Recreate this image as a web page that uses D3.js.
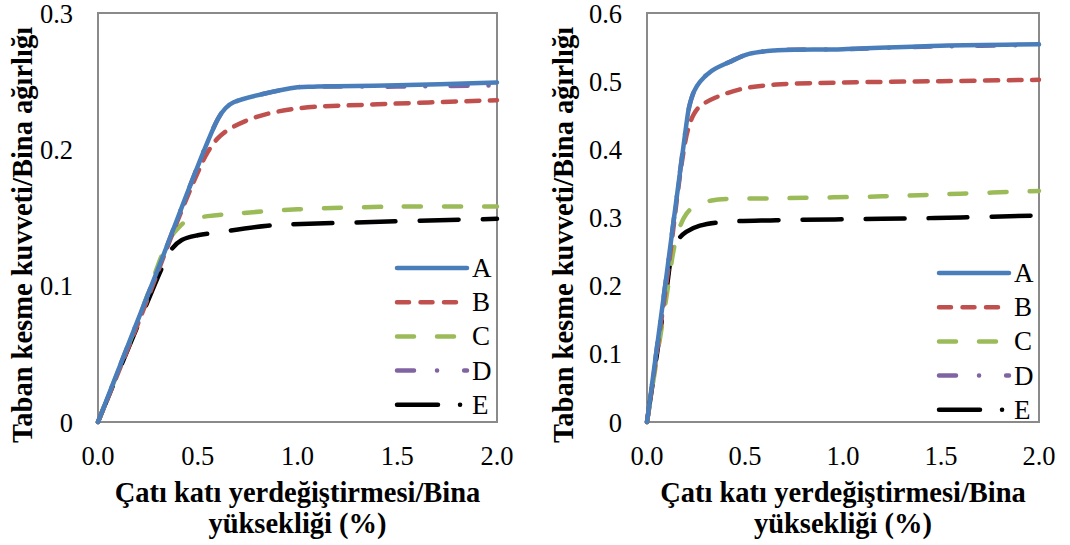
<!DOCTYPE html>
<html>
<head>
<meta charset="utf-8">
<script src="https://cdn.jsdelivr.net/npm/d3@7"></script>
<style>
    body { margin: 0; background: #fff; }
    svg { display: block; }
    .tick-label { font-family: "Liberation Serif", serif; font-size: 26.5px; fill: #000; }
    .legend-label { font-family: "Liberation Serif", serif; font-size: 27px; fill: #000; }
    .axis-title { font-family: "Liberation Serif", serif; font-size: 28.5px; font-weight: bold; fill: #000; }
</style>
</head>
<body>
<svg id="chart" width="1070" height="545"></svg>
<script>
"use strict";

// values: [drift %, base shear / weight]
var seriesNames = ["A", "B", "C", "D", "E"];
var xTicks = [0, 0.5, 1.0, 1.5, 2.0];
var leftYTicks = [0, 0.1, 0.2, 0.3];
var rightYTicks = [0, 0.1, 0.2, 0.3, 0.4, 0.5, 0.6];

var leftA = [[0, 0], [0.3, 0.112], [0.6, 0.222], [0.64, 0.2303], [0.68, 0.2345], [1.0, 0.2455], [1.1, 0.246], [1.5, 0.247], [2.0, 0.249]];
var leftB = [[0, 0], [0.2, 0.072], [0.4, 0.148], [0.5, 0.183], [0.55, 0.198], [0.6, 0.208], [0.66, 0.215], [0.8, 0.224], [1.0, 0.230], [1.4, 0.233], [2.0, 0.236]];
var leftC = [[0, 0], [0.2, 0.074], [0.35, 0.132], [0.4, 0.142], [0.45, 0.148], [0.55, 0.151], [0.7, 0.153], [1.0, 0.156], [1.5, 0.158], [2.0, 0.158]];
var leftD = [[0, 0], [0.3, 0.112], [0.6, 0.222], [0.64, 0.2303], [0.68, 0.2345], [1.0, 0.2455], [1.1, 0.246], [1.5, 0.246], [2.0, 0.247]];
var leftE = [[0, 0], [0.2, 0.071], [0.33, 0.116], [0.37, 0.127], [0.42, 0.1335], [0.5, 0.137], [0.6, 0.139], [0.85, 0.144], [1.2, 0.146], [2.0, 0.149]];

var rightA = [[0, 0], [0.1, 0.216], [0.2, 0.435], [0.215, 0.462], [0.24, 0.485], [0.27, 0.499], [0.33, 0.515], [0.42, 0.528], [0.52, 0.540], [0.65, 0.545], [1.0, 0.547], [1.5, 0.552], [2.0, 0.554]];
var rightB = [[0, 0], [0.1, 0.205], [0.18, 0.385], [0.21, 0.430], [0.24, 0.452], [0.27, 0.463], [0.35, 0.476], [0.49, 0.489], [0.66, 0.495], [1.0, 0.498], [1.5, 0.500], [2.0, 0.502]];
var rightC = [[0, 0], [0.1, 0.185], [0.14, 0.258], [0.17, 0.288], [0.2, 0.305], [0.24, 0.316], [0.33, 0.325], [0.66, 0.328], [1.2, 0.331], [1.6, 0.335], [2.0, 0.339]];
var rightD = [[0, 0], [0.1, 0.216], [0.2, 0.435], [0.215, 0.462], [0.24, 0.485], [0.27, 0.499], [0.33, 0.515], [0.42, 0.528], [0.52, 0.540], [0.65, 0.545], [1.0, 0.547], [1.5, 0.551], [2.0, 0.553]];
var rightE = [[0, 0], [0.1, 0.195], [0.13, 0.250], [0.16, 0.268], [0.2, 0.279], [0.27, 0.288], [0.37, 0.293], [0.66, 0.296], [1.2, 0.298], [1.6, 0.300], [2.0, 0.303]];

var xTitle = ["Çatı katı yerdeğiştirmesi/Bina", "yüksekliği (%)"];
var yTitle = "Taban kesme kuvveti/Bina ağırlığı";

// E shows its dot only in the legend swatch, as in the original
var styles = [
    { color: "#4a7ebb", dash: null, legendDash: null },
    { color: "#c0504d", dash: "13 10.5", legendDash: "12 11.5" },
    { color: "#9bbb59", dash: "17 23", legendDash: "17 23" },
    { color: "#8064a2", dash: "17 21 0.1 25", legendDash: "17 23 0.1 27" },
    { color: "#000000", dash: "39 24", legendDash: "41 22 0.1 22" }
];

function create_graph(svg, opt) {
    var g = svg.append("g");
    var x = d3.scaleLinear().domain([0, 2]).range([opt.left, opt.right]);
    var y = d3.scaleLinear().domain([0, opt.yMax]).range([opt.bottom, opt.top]);

    // plot border
    g.append("rect")
        .attr("x", opt.left).attr("y", opt.top)
        .attr("width", opt.right - opt.left).attr("height", opt.bottom - opt.top)
        .attr("fill", "none").attr("stroke", "#8a8a8a").attr("stroke-width", 2);

    // tick labels
    g.selectAll(".xt").data(xTicks).enter().append("text")
        .attr("class", "tick-label")
        .attr("x", function (d) { return x(d); })
        .attr("y", 465)
        .attr("text-anchor", "middle")
        .text(function (d) { return d.toFixed(1); });
    g.selectAll(".yt").data(opt.yTicks).enter().append("text")
        .attr("class", "tick-label")
        .attr("x", opt.left - 25)
        .attr("y", function (d) { return y(d) + 9.5; })
        .attr("text-anchor", "end")
        .text(function (d) { return d === 0 ? "0" : d.toFixed(1); });

    var line = d3.line()
        .x(function (d) { return x(d[0]); })
        .y(function (d) { return y(d[1]); })
        .curve(d3.curveCatmullRom.alpha(0.5));

    // draw in reverse so A ends up on top
    for (var i = opt.series.length - 1; i >= 0; i--) {
        var p = g.append("path")
            .datum(opt.series[i])
            .attr("d", line)
            .attr("fill", "none")
            .attr("stroke", styles[i].color)
            .attr("stroke-width", 4.5)
            .attr("stroke-linecap", "round")
            .attr("stroke-linejoin", "round");
        if (styles[i].dash)
            p.attr("stroke-dasharray", styles[i].dash);
    }

    // legend
    var lg = g.append("g");
    for (var j = 0; j < seriesNames.length; j++) {
        var ly = opt.legendTop + j * 34.2;
        var lx = opt.right - 100;
        var l = lg.append("line")
            .attr("x1", lx).attr("x2", lx + 70)
            .attr("y1", ly).attr("y2", ly)
            .attr("stroke", styles[j].color)
            .attr("stroke-width", 4.5)
            .attr("stroke-linecap", "round");
        if (styles[j].legendDash)
            l.attr("stroke-dasharray", styles[j].legendDash);
        lg.append("text")
            .attr("class", "legend-label")
            .attr("x", opt.right - 25)
            .attr("y", ly + 9)
            .text(seriesNames[j]);
    }

    // axis titles
    var cx = (opt.left + opt.right) / 2;
    g.append("text").attr("class", "axis-title")
        .attr("x", cx).attr("y", 502)
        .attr("text-anchor", "middle").text(xTitle[0]);
    g.append("text").attr("class", "axis-title")
        .attr("x", cx).attr("y", 533)
        .attr("text-anchor", "middle").text(xTitle[1]);
    g.append("text").attr("class", "axis-title")
        .attr("transform", "translate(" + opt.titleX + ",235) rotate(-90)")
        .attr("text-anchor", "middle").text(yTitle);
}

var svg = d3.select("#chart");
create_graph(svg, {
    left: 98, right: 497, top: 13, bottom: 422,
    yMax: 0.3, yTicks: leftYTicks,
    series: [leftA, leftB, leftC, leftD, leftE],
    legendTop: 268, titleX: 32
});
create_graph(svg, {
    left: 647, right: 1039, top: 13, bottom: 422,
    yMax: 0.6, yTicks: rightYTicks,
    series: [rightA, rightB, rightC, rightD, rightE],
    legendTop: 273, titleX: 573
});
</script>
</body>
</html>
